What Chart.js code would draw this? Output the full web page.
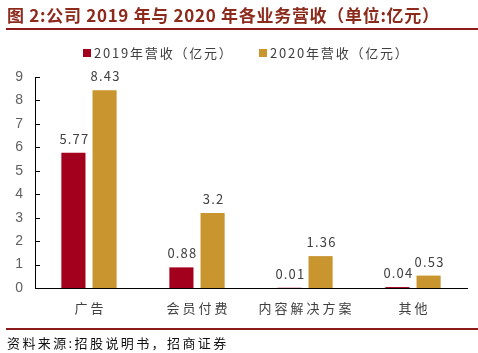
<!DOCTYPE html>
<html>
<head>
<meta charset="utf-8">
<script src="https://cdn.jsdelivr.net/npm/chart.js@4.4.0/dist/chart.umd.min.js"></script>
<style>
  html, body { margin: 0; padding: 0; background: #fff; }
  #wrap { position: relative; width: 478px; height: 353px; }
</style>
</head>
<body>
<div id="wrap"><canvas id="c"></canvas></div>
<script>
// data
const categories = ['广告', '会员付费', '内容解决方案', '其他'];
const revenue2019 = [5.77, 0.88, 0.01, 0.04];
const revenue2020 = [8.43, 3.2, 1.36, 0.53];
const seriesNames = ['2019年营收（亿元）', '2020年营收（亿元）'];
const yTicks = [0, 1, 2, 3, 4, 5, 6, 7, 8, 9];

const titleText = '图 2:公司 2019 年与 2020 年各业务营收（单位:亿元）';
const sourceText = '资料来源:招股说明书，招商证券';

const RED = '#a3001e';
const GOLD = '#c9952e';
const CJK = '"Noto Sans CJK SC", "Noto Sans", sans-serif';

// draw text with extra spacing between letters
function spaced(ctx, text, x, y, sp) {
  ctx.letterSpacing = sp + 'px';
  ctx.fillText(text, x, y);
  ctx.letterSpacing = '0px';
}

// title, rules, legend, inner ticks, labels and source line
const decor = {
  id: 'decor',
  afterDraw(chart) {
    const ctx = chart.ctx;
    const y = chart.scales.y;
    const x = chart.scales.x;
    ctx.save();

    ctx.fillStyle = '#8c2a1c';
    ctx.font = 'bold 17px ' + CJK;
    ctx.textBaseline = 'middle';
    ctx.textAlign = 'left';
    spaced(ctx, titleText, 7, 16, 0.7);

    ctx.fillStyle = '#8b1a1a';
    ctx.fillRect(6, 28, 472, 2);
    ctx.fillRect(6, 328, 472, 2);

    // legend
    ctx.font = '13px ' + CJK;
    ctx.fillStyle = RED;
    ctx.fillRect(83, 49, 8, 8);
    ctx.fillStyle = GOLD;
    ctx.fillRect(259, 49, 8, 8);
    ctx.fillStyle = '#404040';
    spaced(ctx, seriesNames[0], 94, 53, 1.8);
    spaced(ctx, seriesNames[1], 270, 53, 1.8);

    // inward tick marks on the y axis
    ctx.strokeStyle = '#000';
    ctx.lineWidth = 1;
    yTicks.forEach(v => {
      const py = Math.round(y.getPixelForValue(v)) + 0.5;
      ctx.beginPath();
      ctx.moveTo(chart.chartArea.left, py);
      ctx.lineTo(chart.chartArea.left + 5, py);
      ctx.stroke();
    });

    // category labels
    ctx.font = '13px ' + CJK;
    ctx.fillStyle = '#404040';
    ctx.textAlign = 'center';
    ctx.textBaseline = 'middle';
    categories.forEach((c, i) => {
      spaced(ctx, c, x.getPixelForValue(i) + 1.5, 308, 3);
    });

    // value labels above the bars
    ctx.font = '13px ' + CJK;
    ctx.textBaseline = 'alphabetic';
    chart.data.datasets.forEach((ds, di) => {
      chart.getDatasetMeta(di).data.forEach((bar, i) => {
        spaced(ctx, String(ds.data[i]), bar.x + 1, bar.y - 9, 1.2);
      });
    });

    // source
    ctx.textAlign = 'left';
    ctx.textBaseline = 'middle';
    ctx.fillStyle = '#111';
    ctx.font = '13px ' + CJK;
    spaced(ctx, sourceText, 7, 343, 2.4);
    ctx.restore();
  }
};

new Chart(document.getElementById('c'), {
  type: 'bar',
  data: {
    labels: categories,
    datasets: [
      { label: seriesNames[0], data: revenue2019, backgroundColor: RED },
      { label: seriesNames[1], data: revenue2020, backgroundColor: GOLD }
    ]
  },
  options: {
    responsive: true,
    maintainAspectRatio: false,
    animation: false,
    devicePixelRatio: 1,
    categoryPercentage: 0.577,
    barPercentage: 0.774,
    layout: { padding: { top: 77, right: 11, left: 0, bottom: 0 } },
    plugins: {
      legend: { display: false },
      tooltip: { enabled: false }
    },
    scales: {
      x: {
        grid: { display: false, drawTicks: false },
        border: { color: '#000', width: 1 },
        ticks: { display: false },
        afterFit(s) { s.height = 65; }
      },
      y: {
        min: 0,
        max: 9,
        grid: { display: false, drawTicks: false },
        border: { color: '#000', width: 1 },
        ticks: {
          stepSize: 1,
          color: '#606060',
          font: { family: 'Arial, "Liberation Sans", sans-serif', size: 14 },
          padding: 12
        },
        afterFit(s) { s.width = 35; }
      }
    }
  },
  plugins: [decor]
});
</script>
</body>
</html>
